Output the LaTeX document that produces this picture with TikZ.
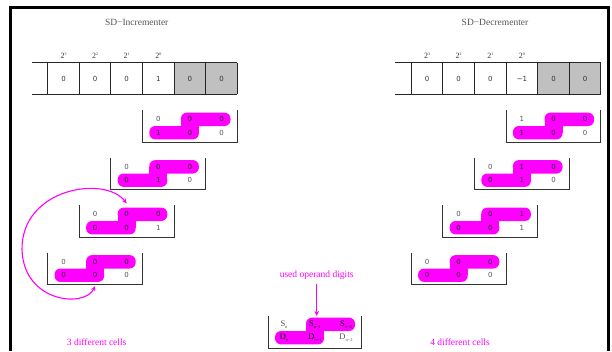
\documentclass[tikz,border=0pt]{standalone}
\usepackage{fontspec}
\setmainfont{Liberation Serif}
\newfontfamily\digfont{DejaVu Sans}
\usetikzlibrary{arrows.meta}
\definecolor{hlc}{HTML}{FF00FF}
\definecolor{regfill}{HTML}{C0C0C0}
\definecolor{txtg}{HTML}{555555}
\tikzset{
  dig/.style={font=\digfont\fontsize{7}{8}\selectfont, text=txtg, inner sep=0pt},
  digh/.style={dig, text=black!85},
  boxline/.style={draw=black!80, line width=1.1pt},
  regline/.style={draw=black!85, line width=1.1pt},
  title/.style={font=\fontsize{9.5}{11}\selectfont, text=txtg},
  pink/.style={font=\fontsize{9.5}{11}\selectfont, text=hlc},
  pwr/.style={font=\fontsize{8}{9}\selectfont, text=black!80, inner sep=0pt},
  lg/.style={font=\fontsize{8.5}{10}\selectfont, inner sep=0pt},
  hlarrow/.style={draw=hlc, line width=1.1pt, -{Stealth[length=5pt,width=4.5pt]}},
}
% highlight Z shape: X Y (left, top), col width w
\newcommand\hlshape[4]{% X, Y, colwidth, rowoffset
  \fill[hlc,rounded corners=6pt] ({#1+1.5*#3-9},{#2+#4-6.7}) rectangle ({#1+2.5*#3+9},{#2+#4+6.7});
  \fill[hlc,rounded corners=6pt] ({#1+0.5*#3-9},{#2+#4+6.7}) rectangle ({#1+1.5*#3+9},{#2+#4+20.1});
  \fill[hlc] ({#1+1.5*#3-9},{#2+#4}) rectangle ({#1+1.5*#3+9},{#2+#4+13.4});
}
% cell box: name, X, Y, a1 a2 a3 b1 b2 b3
\newcommand\sdbox[9]{%
  \hlshape{#2}{#3}{31.6}{9.3}
  \draw[boxline] ({#2},{#3}) -- ({#2},{#3+32.3}) -- ({#2+94.8},{#3+32.3}) -- ({#2+94.8},{#3});
  \node[dig]  (#1-a1) at ({#2+15.8},{#3+9.3}) {#4};
  \node[digh] (#1-a2) at ({#2+47.4},{#3+9.3}) {#5};
  \node[digh] (#1-a3) at ({#2+79},{#3+9.3}) {#6};
  \node[digh] (#1-b1) at ({#2+15.8},{#3+22.7}) {#7};
  \node[digh] (#1-b2) at ({#2+47.4},{#3+22.7}) {#8};
  \node[dig]  (#1-b3) at ({#2+79},{#3+22.7}) {#9};
  \coordinate (#1-top) at ({#2+47.4},{#3-1.5});
  \coordinate (#1-bot) at ({#2+47.4},{#3+33.5});
}
% register: name, L (left of first cell), v1..v6
\newcommand\sdreg[8]{%
  \fill[regfill] ({#2+4*31.6},62.7) rectangle ({#2+6*31.6},94.3);
  \draw[regline] ({#2-16},62.7) -- ({#2+6*31.6},62.7);
  \draw[regline] ({#2-16},94.3) -- ({#2+6*31.6},94.3);
  \foreach \i in {0,...,6} {\draw[regline] ({#2+\i*31.6},62.7) -- ({#2+\i*31.6},94.3);}
  \node[dig,text=black!80] (#1-c1) at ({#2+0.5*31.6},79) {#3};
  \node[dig,text=black!80] (#1-c2) at ({#2+1.5*31.6},79) {#4};
  \node[dig,text=black!80] (#1-c3) at ({#2+2.5*31.6},79) {#5};
  \node[dig,text=black!80] (#1-c4) at ({#2+3.5*31.6},79) {#6};
  \node[dig,text=black!80] (#1-c5) at ({#2+4.5*31.6},79) {#7};
  \node[dig,text=black!80] (#1-c6) at ({#2+5.5*31.6},79) {#8};
  \node[pwr] (#1-p3) at ({#2+0.5*31.6},56) {2\raisebox{2.8pt}{\fontsize{4}{4}\selectfont 3}};
  \node[pwr] (#1-p2) at ({#2+1.5*31.6},56) {2\raisebox{2.8pt}{\fontsize{4}{4}\selectfont 2}};
  \node[pwr] (#1-p1) at ({#2+2.5*31.6},56) {2\raisebox{2.8pt}{\fontsize{4}{4}\selectfont 1}};
  \node[pwr] (#1-p0) at ({#2+3.5*31.6},56) {2\raisebox{2.8pt}{\fontsize{4}{4}\selectfont 0}};
}
\newcommand\subs[2]{#1\raisebox{-2.2pt}{\fontsize{4.5}{5}\selectfont #2}}
\begin{document}
\begin{tikzpicture}[x=1pt,y=-1pt]
\useasboundingbox (0,0) rectangle (612,351);
% frame
\draw[line width=3pt, miter limit=10] (10,351) -- (10,7) -- (608.3,7) -- (608.3,351);

% ---------- SD-Incrementer ----------
\node[title] (tinc) at (136.7,22.3) {SD−Incrementer};
\sdreg{ri}{47.7}{0}{0}{0}{1}{0}{0}
\sdbox{i1}{142.5}{110}{0}{0}{0}{1}{0}{0}
\sdbox{i2}{110.9}{157.5}{0}{0}{0}{0}{1}{0}
\sdbox{i3}{79.3}{205}{0}{0}{0}{0}{0}{1}
\sdbox{i4}{47.7}{252.5}{0}{0}{0}{0}{0}{0}
\draw[hlarrow, {Stealth[length=5pt,width=4.5pt]}-{Stealth[length=5pt,width=4.5pt]}]
  (i4-bot) .. controls (85,308) and (24,303) .. (22,250)
           .. controls (21,188) and (105,175) .. (i3-top);
\node[pink] (c3lbl) at (96.7,341.7) {3 different cells};

% ---------- SD-Decrementer ----------
\node[title] (tdec) at (495,22.3) {SD−Decrementer};
\sdreg{rd}{411.3}{0}{0}{0}{−1}{0}{0}
\sdbox{d1}{506.1}{110}{1}{0}{0}{1}{0}{0}
\sdbox{d2}{474.5}{157.5}{0}{1}{0}{0}{1}{0}
\sdbox{d3}{442.9}{205}{0}{0}{1}{0}{0}{1}
\sdbox{d4}{411.3}{252.5}{0}{0}{0}{0}{0}{0}
\node[pink] (c4lbl) at (460,341.7) {4 different cells};

% ---------- legend ----------
\hlshape{268.5}{316}{31}{8.3}
\draw[boxline] (268.5,316) -- (268.5,348.3) -- (361.5,348.3) -- (361.5,316);
\node[lg,text=txtg]   (sn)  at (284,324.3) {\subs{S}{n}};
\node[lg,text=black]  (sn1) at (315,324.3) {\subs{S}{n−1}};
\node[lg,text=black]  (sn2) at (346,324.3) {\subs{S}{n−2}};
\node[lg,text=black]  (dn)  at (284,337.7) {\subs{D}{n}};
\node[lg,text=black]  (dn1) at (315,337.7) {\subs{D}{n−1}};
\node[lg,text=txtg]   (dn2) at (346,337.7) {\subs{D}{n−2}};
\node[pink] (used) at (316.7,275.7) {used operand digits};
\draw[hlarrow] (used.south) -- (316.7,316);
\end{tikzpicture}
\end{document}
